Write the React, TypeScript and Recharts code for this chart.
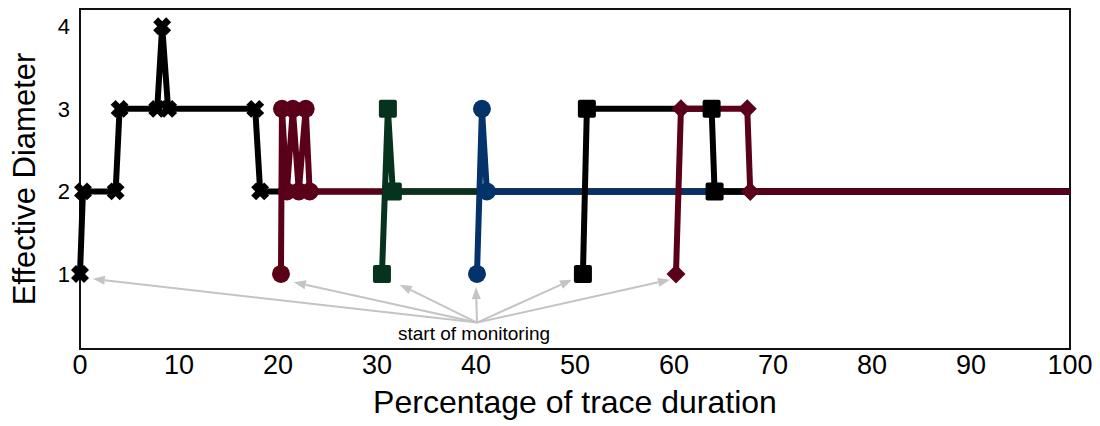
import React from "react";
import {
  LineChart,
  Line,
  XAxis,
  YAxis,
  ReferenceArea,
  ReferenceLine,
  ReferenceDot,
} from "recharts";

// ---------- data ----------
const X_TICKS = [0, 10, 20, 30, 40, 50, 60, 70, 80, 90, 100];
const Y_TICKS = [1, 2, 3, 4];

const S1_X = [0, 0.3, 3.6, 4.0, 7.8, 8.3, 8.9, 17.7, 18.2, 100];
const S1_Y = [1, 2, 2, 3, 3, 4, 3, 3, 2, 2];

const S2_X = [20.3, 20.4, 20.9, 21.5, 22.1, 22.8, 23.2, 100];
const S2_Y = [1, 3, 2, 3, 2, 3, 2, 2];

const S3_X = [30.5, 31.1, 31.6, 100];
const S3_Y = [1, 3, 2, 2];

const S4_X = [40.1, 40.6, 41.1, 100];
const S4_Y = [1, 3, 2, 2];

const S5_X = [50.8, 51.2, 63.8, 64.1, 100];
const S5_Y = [1, 3, 3, 2, 2];

const S6_X = [60.2, 60.7, 67.4, 67.7, 100];
const S6_Y = [1, 3, 3, 2, 2];

const ANNOT_TEXT = "start of monitoring";
const ANNOT_ORIGIN = { x: 40.1, y: 0.41 };
const ANNOT_TEXT_POS = { x: 39.8, y: 0.2 };
const ARROW_TIP_X = [1.3, 21.6, 32.3, 40.0, 49.7, 59.6];
const ARROW_TIP_Y = [0.94, 0.9, 0.87, 0.84, 0.93, 0.93];

const X_DOMAIN: [number, number] = [0, 100];
const Y_DOMAIN: [number, number] = [0.09, 4.21];

// ---------- style ----------
const FONT = "'Liberation Sans', Arial, Helvetica, sans-serif";
const BLACK = "#000000";
const RED = "#5a0018";
const GREEN = "#06331d";
const BLUE = "#04326a";
const ARROW = "#c4c4c4";

const zip = (xs: number[], ys: number[]) => xs.map((x, i) => ({ x, y: ys[i] }));

type DotProps = { cx?: number; cy?: number; payload?: any; index?: number };

const hideEnd = (p: DotProps) => p.payload && p.payload.x === 100;

const makeXDot = (color: string) => (p: DotProps) => {
  const { cx = 0, cy = 0, index } = p;
  if (hideEnd(p)) return <g key={`xd-${index}`} />;
  const s = 6.5;
  return (
    <g key={`xd-${index}`}>
      <line x1={cx - s} y1={cy - s} x2={cx + s} y2={cy + s} stroke={color} strokeWidth={7} />
      <line x1={cx - s} y1={cy + s} x2={cx + s} y2={cy - s} stroke={color} strokeWidth={7} />
    </g>
  );
};

const makeCircleDot = (color: string) => (p: DotProps) => {
  const { cx = 0, cy = 0, index } = p;
  if (hideEnd(p)) return <g key={`cd-${index}`} />;
  return <circle key={`cd-${index}`} cx={cx} cy={cy} r={9} fill={color} />;
};

const makeSquareDot = (color: string) => (p: DotProps) => {
  const { cx = 0, cy = 0, index } = p;
  if (hideEnd(p)) return <g key={`sd-${index}`} />;
  return <rect key={`sd-${index}`} x={cx - 9} y={cy - 9} width={18} height={18} rx={2} fill={color} />;
};

const makeDiamondDot = (color: string) => (p: DotProps) => {
  const { cx = 0, cy = 0, index } = p;
  if (hideEnd(p)) return <g key={`dd-${index}`} />;
  const s = 9.5;
  return (
    <polygon
      key={`dd-${index}`}
      points={`${cx},${cy - s} ${cx + s},${cy} ${cx},${cy + s} ${cx - s},${cy}`}
      fill={color}
    />
  );
};

const ArrowShape = (props: any) => {
  const { x1, y1, x2, y2 } = props;
  const ang = Math.atan2(y2 - y1, x2 - x1);
  const len = 12;
  const hw = 4.5;
  const bx = x2 - len * Math.cos(ang);
  const by = y2 - len * Math.sin(ang);
  const px = -Math.sin(ang) * hw;
  const py = Math.cos(ang) * hw;
  return (
    <g>
      <line x1={x1} y1={y1} x2={bx} y2={by} stroke={ARROW} strokeWidth={2} />
      <polygon points={`${x2},${y2} ${bx + px},${by + py} ${bx - px},${by - py}`} fill={ARROW} />
    </g>
  );
};

const AnnotText = (props: any) => {
  const { cx, cy } = props;
  return (
    <text x={cx} y={cy} textAnchor="middle" fontFamily={FONT} fontSize={19} fill="#000">
      {ANNOT_TEXT}
    </text>
  );
};

const XLabel = (props: any) => {
  const vb = props.viewBox || { x: 72, y: 341, width: 990, height: 77 };
  return (
    <text
      x={vb.x + vb.width / 2}
      y={vb.y + 64}
      textAnchor="middle"
      fontFamily={FONT}
      fontSize={32}
      fill="#000"
    >
      Percentage of trace duration
    </text>
  );
};

const YLabel = (props: any) => {
  const vb = props.viewBox || { x: 0, y: 1, width: 72, height: 340 };
  const x = vb.x + 27;
  const y = vb.y + vb.height / 2;
  return (
    <text
      x={x}
      y={y}
      transform={`rotate(-90, ${x}, ${y})`}
      textAnchor="middle"
      fontFamily={FONT}
      fontSize={31}
      fill="#000"
    >
      Effective Diameter
    </text>
  );
};

const series = [
  { key: "s1", data: zip(S1_X, S1_Y), color: BLACK, dot: makeXDot(BLACK) },
  { key: "s2", data: zip(S2_X, S2_Y), color: RED, dot: makeCircleDot(RED) },
  { key: "s3", data: zip(S3_X, S3_Y), color: GREEN, dot: makeSquareDot(GREEN) },
  { key: "s4", data: zip(S4_X, S4_Y), color: BLUE, dot: makeCircleDot(BLUE) },
  { key: "s5", data: zip(S5_X, S5_Y), color: BLACK, dot: makeSquareDot(BLACK) },
  { key: "s6", data: zip(S6_X, S6_Y), color: RED, dot: makeDiamondDot(RED) },
];

export default function App() {
  return (
    <div style={{ width: 1092, height: 418 }}>
      <LineChart
        width={1092}
        height={418}
        margin={{ top: 1, right: 30, bottom: 0, left: 0 }}
      >
        <XAxis
          type="number"
          dataKey="x"
          domain={X_DOMAIN}
          ticks={X_TICKS}
          axisLine={false}
          tickLine={false}
          tickSize={6}
          tickMargin={0}
          height={77}
          tick={{ fontSize: 27, fill: "#000", fontFamily: FONT }}
          label={{ content: XLabel }}
        />
        <YAxis
          type="number"
          dataKey="y"
          domain={Y_DOMAIN}
          ticks={Y_TICKS}
          axisLine={false}
          tickLine={false}
          tickSize={6}
          tickMargin={4}
          width={72}
          tick={{ fontSize: 22, fill: "#000", fontFamily: FONT }}
          label={{ content: YLabel }}
        />
        <ReferenceArea
          x1={X_DOMAIN[0]}
          x2={X_DOMAIN[1]}
          y1={Y_DOMAIN[0]}
          y2={Y_DOMAIN[1]}
          fill="none"
          fillOpacity={0}
          stroke="#111"
          strokeWidth={2}
          ifOverflow="visible"
        />
        {ARROW_TIP_X.map((tx, i) => (
          <ReferenceLine
            key={`arrow-${i}`}
            segment={[
              { x: ANNOT_ORIGIN.x, y: ANNOT_ORIGIN.y },
              { x: tx, y: ARROW_TIP_Y[i] },
            ]}
            ifOverflow="visible"
            shape={ArrowShape}
          />
        ))}
        <ReferenceDot
          x={ANNOT_TEXT_POS.x}
          y={ANNOT_TEXT_POS.y}
          r={0}
          ifOverflow="visible"
          shape={AnnotText}
        />
        {series.map((s) => (
          <Line
            key={s.key}
            data={s.data}
            dataKey="y"
            type="linear"
            stroke={s.color}
            strokeWidth={6}
            dot={s.dot}
            activeDot={false}
            isAnimationActive={false}
          />
        ))}
      </LineChart>
    </div>
  );
}
